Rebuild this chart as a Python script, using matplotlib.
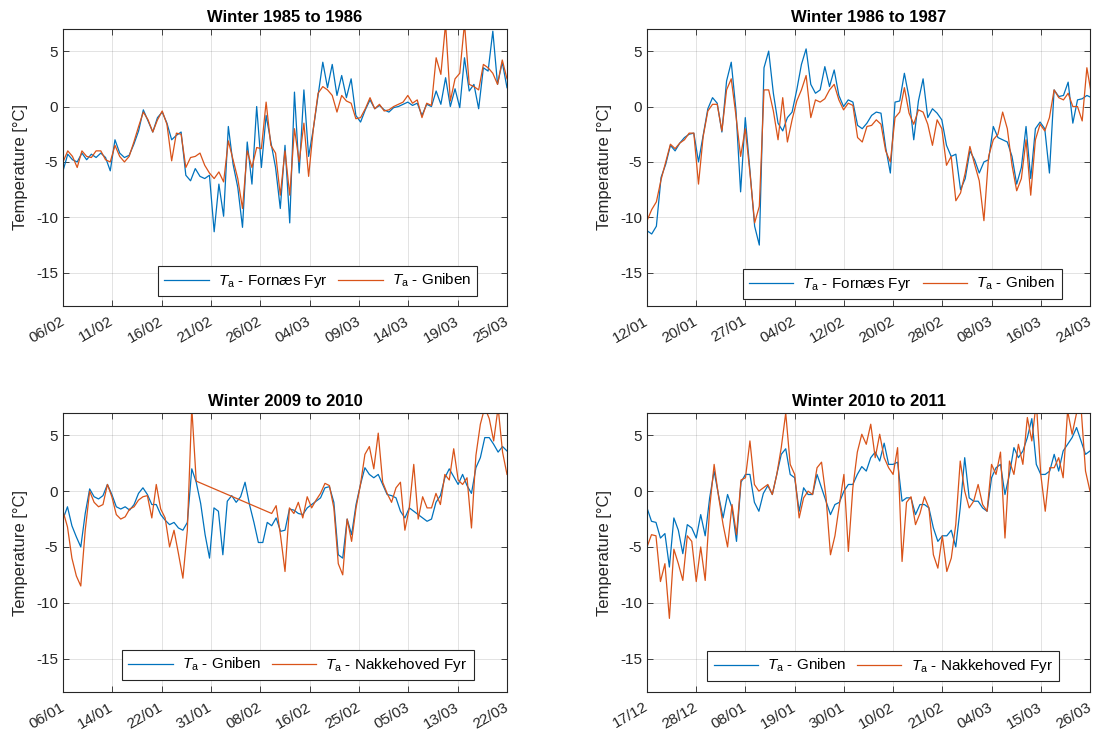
import numpy as np
import matplotlib
matplotlib.use('Agg')
import matplotlib.pyplot as plt
import matplotlib.dates as mdates

plt.rcParams['font.family'] = ['Liberation Sans', 'DejaVu Sans']
plt.rcParams['mathtext.fontset'] = 'custom'
plt.rcParams['mathtext.it'] = 'Liberation Sans:italic'
plt.rcParams['mathtext.rm'] = 'Liberation Sans'
plt.rcParams['axes.unicode_minus'] = False

BLUE = '#0072BD'
ORANGE = '#D95319'
DARK = '#262626'

# winter 1985 to 1986, one value every 12 h from 06/02/1986
fornaes_86 = [-5.8, -4.3, -4.8, -5.0, -4.2, -4.8, -4.3, -4.6, -4.2, -4.6,
              -5.8, -3.0, -4.2, -4.6, -4.4, -3.4, -2.2, -0.3, -1.3, -2.3,
              -1.0, -0.5, -1.5, -3.0, -2.6, -2.3, -6.2, -6.7, -5.6, -6.3,
              -6.5, -6.2, -11.3, -7.0, -9.9, -1.8, -5.2, -7.3, -10.9, -3.2,
              -7.0, 0.0, -5.5, -0.8, -3.2, -5.5, -9.2, -3.5, -10.5, 1.3,
              -6.0, 1.5, -4.5, -2.0, 1.0, 4.0, 1.7, 3.8, 1.0, 2.8,
              0.8, 2.5, -0.8, -1.4, -0.3, 0.6, -0.2, 0.1, -0.3, -0.5,
              -0.1, 0.0, 0.2, 0.4, 0.1, 0.3, -0.8, 0.2, 0.0, 1.4,
              0.2, 2.6, 0.0, 1.6, -0.1, 4.4, 1.4, 2.0, -0.2, 3.5,
              3.2, 6.8, 2.0, 4.0, 1.7]
gniben_86 = [-5.0, -4.0, -4.5, -5.5, -4.0, -4.5, -4.6, -4.0, -4.0, -4.8,
             -5.0, -3.5, -4.5, -5.0, -4.5, -3.2, -1.8, -0.5, -1.2, -2.3,
             -1.2, -0.4, -1.6, -4.9, -2.4, -2.5, -5.5, -4.6, -4.5, -4.2,
             -5.3, -6.0, -6.5, -5.9, -6.8, -3.1, -4.8, -6.5, -9.2, -4.0,
             -5.5, -3.7, -3.8, 0.4, -3.5, -4.2, -8.0, -4.0, -8.0, -2.0,
             -5.0, -1.5, -6.3, -2.0, 1.2, 1.8, 1.5, 1.0, -0.5, 1.0,
             0.5, 0.3, -1.1, -1.0, -0.2, 0.8, -0.2, 0.2, -0.4, -0.3,
             0.0, 0.2, 0.4, 1.0, 0.3, 0.6, -1.0, 0.3, 0.1, 4.4,
             2.9, 7.5, 0.5, 2.5, 3.0, 7.5, 2.0, 1.8, 1.5, 3.8,
             3.5, 3.0, 2.0, 4.2, 2.5]

# winter 1986 to 1987, one value every 18 h from 12/01/1987
fornaes_87 = [-11.2, -11.5, -10.8, -6.4, -5.2, -3.5, -4.0, -3.3, -2.8, -2.5,
              -2.4, -5.0, -2.6, -0.2, 0.8, 0.3, -2.3, 2.3, 4.0, -0.3,
              -7.7, -1.0, -5.8, -10.8, -12.5, 3.5, 5.0, 1.2, -1.5, -2.2,
              -1.0, -0.5, 1.5, 3.8, 5.2, 2.0, 1.2, 1.5, 3.6, 1.8,
              3.3, 1.0, 0.0, 0.6, 0.4, -1.7, -2.0, -1.5, -0.8, -0.5,
              -0.6, -3.7, -6.0, 0.4, 0.5, 3.0, 0.8, -3.0, 0.5, 2.5,
              -1.0, -0.2, -0.6, -1.2, -3.5, -4.5, -4.3, -7.5, -6.5, -4.0,
              -4.8, -6.0, -5.0, -4.8, -1.8, -2.8, -3.0, -3.2, -4.5, -7.0,
              -5.5, -1.8, -6.5, -2.0, -1.4, -2.0, -6.0, 1.5, 0.9, 1.0,
              2.2, -1.5, 0.6, 0.7, 1.0, 0.8]
gniben_87 = [-10.3, -9.3, -8.6, -6.6, -5.0, -3.4, -3.8, -3.3, -3.0, -2.4,
             -2.4, -7.0, -2.7, -0.4, 0.2, 0.2, -2.2, 1.5, 2.5, -0.8,
             -4.5, -2.0, -6.0, -10.5, -9.0, 1.5, 1.5, -0.4, -3.0, 0.8,
             -3.2, -1.2, 0.5, 1.5, 2.8, -1.0, 0.6, 0.4, 0.7, 1.5,
             2.0, 0.6, -0.3, 0.3, 0.1, -2.8, -3.2, -1.8, -1.7, -1.2,
             -1.6, -4.0, -5.0, -1.0, -0.5, 1.7, -0.6, -1.6, -0.3, -0.5,
             -1.6, -3.5, -1.2, -2.0, -5.3, -4.5, -8.5, -7.8, -6.0, -3.6,
             -5.2, -6.7, -10.3, -4.5, -3.0, -2.5, -0.5, -2.0, -5.3, -7.6,
             -6.5, -3.0, -8.0, -3.0, -1.6, -2.2, -1.0, 1.5, 0.8, 0.6,
             1.2, 0.0, 0.0, -1.3, 3.5, 1.0]

# winter 2009 to 2010, one value every 18 h from 06/01/2010
gniben_10 = [-2.5, -1.4, -3.1, -4.1, -5.0, -2.0, 0.2, -0.5, -0.7, -0.4,
             0.6, -0.3, -1.4, -1.6, -1.4, -1.7, -1.2, -0.2, 0.3, -0.3,
             -1.2, -1.2, -2.1, -2.6, -3.0, -2.8, -3.3, -3.5, -2.8, 2.0,
             0.8, -1.1, -3.9, -6.0, -1.5, -1.8, -5.7, -0.9, -0.4, -1.0,
             -0.5, 0.8, -1.2, -2.8, -4.6, -4.6, -2.8, -3.1, -2.4, -3.6,
             -3.5, -1.6, -1.7, -2.0, -2.1, -1.5, -1.2, -0.9, -0.6, 0.3,
             0.4, -1.0, -5.7, -6.0, -2.5, -3.9, -1.2, 0.6, 2.1, 1.5,
             1.2, 1.5, 0.6, -0.3, -0.4, -0.6, -1.8, -2.4, -1.5, -1.8,
             -2.1, -2.4, -2.7, -2.5, -1.0, -0.4, 1.2, 2.0, 1.3, 0.6,
             1.5, 0.5, -0.2, 2.1, 3.0, 4.8, 4.8, 4.2, 3.5, 4.0, 3.6]
# Nakkehoved Fyr has no data between step 30 and step 47
nakke_10_a = [-1.8, -3.2, -6.0, -7.6, -8.5, -3.5, 0.0, -1.0, -1.4, -1.2,
              0.6, -0.5, -2.1, -2.5, -2.3, -1.6, -1.4, -0.8, -0.5, -0.4,
              -2.4, 0.6, -1.6, -2.4, -5.0, -3.5, -5.6, -7.8, -3.5, 7.5, 0.9]
nakke_10_b = [-2.0, -1.3, -4.0, -7.2, -1.5, -2.0, -1.0, -2.4, -0.5, -1.5,
              -0.8, -0.2, 0.7, 0.5, -1.5, -6.5, -7.5, -2.5, -4.5, -1.5,
              0.6, 3.3, 4.0, 2.0, 5.2, 0.8, -0.2, -1.0, 0.3, 0.8,
              -3.5, -1.5, 2.4, -2.5, -0.5, -1.5, -1.5, -0.2, -1.2, 1.5,
              1.0, 3.8, 1.0, 0.6, 1.2, -3.3, 3.2, 6.0, 7.5, 6.5, 4.5,
              7.5, 3.5, 1.5]

# winter 2010 to 2011, one value per day from 17/12/2010
gniben_11 = [-1.5, -2.7, -2.8, -4.2, -3.8, -6.8, -2.4, -3.5, -5.6, -3.0,
             -3.3, -4.2, -2.1, -4.0, -0.6, 1.8, -0.4, -2.4, -0.3, -1.5,
             -4.5, 0.8, 1.5, 1.5, -1.0, -1.8, -0.2, 0.5, -0.3, 1.5,
             3.3, 3.8, 1.5, 1.2, -1.8, 0.3, -0.3, -0.3, 1.5, 0.3,
             -0.9, -2.1, -1.2, -1.0, 0.0, 0.6, 0.6, 1.5, 2.2, 1.8,
             3.0, 3.5, 2.7, 4.3, 2.4, 2.4, 2.6, -0.9, -0.6, -0.6,
             -2.1, -1.2, -1.2, -1.5, -3.3, -4.5, -4.0, -4.0, -3.5, -5.0,
             -1.5, 3.0, -0.6, -0.9, -0.9, -1.5, -1.8, 1.2, 2.1, 2.4,
             -0.3, 1.5, 3.9, 3.0, 3.6, 4.8, 6.5, 2.4, 1.5, 1.5,
             1.8, 3.3, 1.8, 3.6, 4.2, 4.8, 5.7, 4.5, 3.3, 3.6]
nakke_11 = [-5.0, -3.9, -4.0, -8.1, -6.5, -11.4, -5.2, -6.5, -8.0, -4.0,
            -4.5, -8.1, -5.0, -8.0, -1.5, 2.4, -0.5, -3.0, -5.0, -1.2,
            -3.9, 1.0, 1.2, 4.5, 0.6, 0.0, 0.3, 0.6, -0.3, 1.5,
            3.9, 7.0, 2.4, 1.5, -2.4, -0.6, 0.0, -0.3, 2.1, 2.6,
            -0.5, -5.7, -4.0, -1.2, 1.5, -5.4, 0.3, 3.5, 5.1, 4.2,
            6.0, 3.0, 5.1, 3.0, 2.1, 1.5, 3.9, -6.3, -1.0, -0.5,
            -3.0, -2.0, -0.5, -1.5, -5.7, -6.9, -4.0, -7.2, -6.0, -3.0,
            2.7, 0.0, -1.5, -0.9, 0.6, -1.2, -1.8, 2.4, 1.5, 3.5,
            -4.2, 2.7, 1.5, 4.2, 2.4, 6.6, 4.5, 8.0, 1.5, -1.8,
            2.1, 2.1, 3.0, 1.2, 7.2, 5.1, 7.0, 7.5, 1.8, 0.0]

ticks_86 = ['06/02', '11/02', '16/02', '21/02', '26/02', '04/03', '09/03', '14/03', '19/03', '25/03']
ticks_87 = ['12/01', '20/01', '27/01', '04/02', '12/02', '20/02', '28/02', '08/03', '16/03', '24/03']
ticks_10 = ['06/01', '14/01', '22/01', '31/01', '08/02', '16/02', '25/02', '05/03', '13/03', '22/03']
ticks_11 = ['17/12', '28/12', '08/01', '19/01', '30/01', '10/02', '21/02', '04/03', '15/03', '26/03']


def times(start, step_h, n, offset=0):
    t0 = np.datetime64(start) + np.timedelta64(offset * step_h, 'h')
    return t0 + np.arange(n) * np.timedelta64(step_h, 'h')


def style_axis(ax, title, start, end, labels):
    ax.set_title(title, fontsize=12, fontweight='bold', color='black', pad=5)
    lo = mdates.date2num(np.datetime64(start))
    hi = mdates.date2num(np.datetime64(end))
    ax.set_xlim(lo, hi)
    ax.set_ylim(-18, 7)
    ax.set_xticks(np.linspace(lo, hi, 10))
    # right end of each rotated date label sits at its tick, as in MATLAB
    ax.set_xticklabels(labels, rotation=30, ha='right', va='center',
                       rotation_mode='anchor')
    ax.set_yticks([-15, -10, -5, 0, 5])
    ax.set_ylabel('Temperature [°C]', fontsize=12, color=DARK, labelpad=6)
    ax.tick_params(direction='in', top=True, right=True, length=4, width=0.6,
                   labelsize=11, colors=DARK)
    ax.tick_params(axis='x', pad=10)
    ax.grid(True, color=DARK, alpha=0.15, linewidth=0.6)
    for s in ax.spines.values():
        s.set_color(DARK)
        s.set_linewidth(0.8)


def add_legend(ax, cx, by):
    leg = ax.legend(loc='lower center', bbox_to_anchor=(cx, by), ncol=2, fontsize=11,
                    frameon=True, fancybox=False, framealpha=1, edgecolor=DARK,
                    handlelength=2.9, handletextpad=0.6, columnspacing=0.7,
                    borderpad=0.4, borderaxespad=0)
    leg.get_frame().set_linewidth(0.8)


fig = plt.figure(figsize=(11, 7.33), dpi=100)
ax1 = fig.add_axes([0.0573, 0.5825, 0.4036, 0.378])
ax2 = fig.add_axes([0.5882, 0.5825, 0.4027, 0.378])
ax3 = fig.add_axes([0.0573, 0.0559, 0.4036, 0.3806])
ax4 = fig.add_axes([0.5882, 0.0559, 0.4027, 0.3806])

lw = 0.9

t = times('1986-02-06T00:00', 12, len(fornaes_86))
ax1.plot(t, fornaes_86, color=BLUE, lw=lw, label=r'$T_\mathrm{a}$ - Fornæs Fyr')
ax1.plot(t, gniben_86, color=ORANGE, lw=lw, label=r'$T_\mathrm{a}$ - Gniben')
style_axis(ax1, 'Winter 1985 to 1986', '1986-02-06T00:00', '1986-03-25T00:00', ticks_86)
add_legend(ax1, 0.574, 0.036)

t = times('1987-01-12T03:00', 18, len(fornaes_87))
ax2.plot(t, fornaes_87, color=BLUE, lw=lw, label=r'$T_\mathrm{a}$ - Fornæs Fyr')
ax2.plot(t, gniben_87, color=ORANGE, lw=lw, label=r'$T_\mathrm{a}$ - Gniben')
style_axis(ax2, 'Winter 1986 to 1987', '1987-01-12T03:00', '1987-03-24T03:00', ticks_87)
add_legend(ax2, 0.576, 0.025)

t = times('2010-01-06T00:00', 18, len(gniben_10))
t_nk = np.concatenate([times('2010-01-06T00:00', 18, len(nakke_10_a)),
                       times('2010-01-06T00:00', 18, len(nakke_10_b), offset=47)])
ax3.plot(t, gniben_10, color=BLUE, lw=lw, label=r'$T_\mathrm{a}$ - Gniben')
ax3.plot(t_nk, nakke_10_a + nakke_10_b, color=ORANGE, lw=lw, label=r'$T_\mathrm{a}$ - Nakkehoved Fyr')
style_axis(ax3, 'Winter 2009 to 2010', '2010-01-06T00:00', '2010-03-22T00:00', ticks_10)
add_legend(ax3, 0.529, 0.043)

t = times('2010-12-17T00:00', 24, len(gniben_11))
ax4.plot(t, gniben_11, color=BLUE, lw=lw, label=r'$T_\mathrm{a}$ - Gniben')
ax4.plot(t, nakke_11, color=ORANGE, lw=lw, label=r'$T_\mathrm{a}$ - Nakkehoved Fyr')
style_axis(ax4, 'Winter 2010 to 2011', '2010-12-17T00:00', '2011-03-26T00:00', ticks_11)
add_legend(ax4, 0.533, 0.039)

fig.savefig('out.png', dpi=100)
